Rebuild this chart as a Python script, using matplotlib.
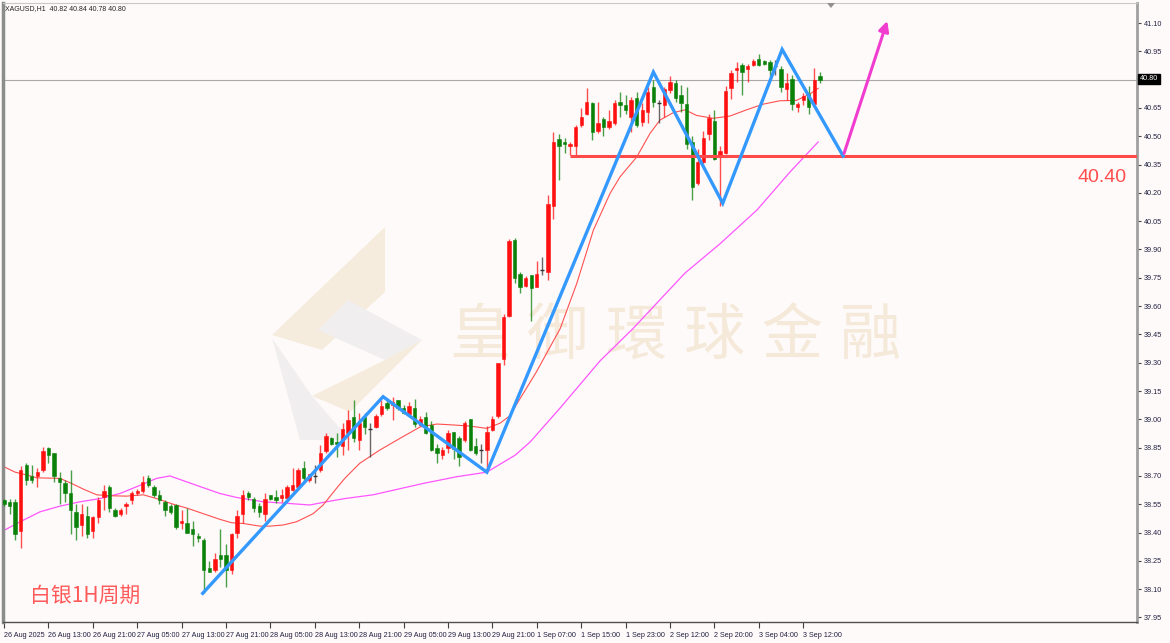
import matplotlib
matplotlib.use("Agg")
import matplotlib.pyplot as plt
from matplotlib.patches import Polygon, FancyArrowPatch
import numpy as np

# ---------------- data ----------------
opens = [38.57,38.56,38.56,38.41,38.76,38.70,38.70,38.73,38.85,38.82,
         38.69,38.66,38.61,38.51,38.44,38.49,38.41,38.48,38.59,38.64,
         38.52,38.50,38.54,38.57,38.61,38.62,38.69,38.64,38.60,38.56,
         38.54,38.545,38.448,38.45,38.42,38.38,38.36,38.21,38.20,38.28,
         38.28,38.20,38.40,38.50,38.61,38.58,38.54,38.50,38.60,38.59,
         38.585,38.585,38.625,38.64,38.74,38.68,38.70,38.73,38.83,38.90,
         38.88,38.86,38.925,39.01,38.89,39.01,38.95,38.96,39.03,39.085,
         39.075,39.10,39.06,39.03,39.06,38.97,39.01,38.97,38.85,38.81,
         38.85,38.935,38.90,38.89,39.00,38.86,38.835,38.835,38.945,39.015,
         39.32,39.55,39.95,39.77,39.706,39.765,39.70,39.79,39.78,40.13,
         40.485,40.47,40.45,40.45,40.56,40.62,40.675,40.53,40.59,40.55,
         40.57,40.68,40.665,40.60,40.70,40.575,40.63,40.76,40.675,40.665,
         40.745,40.78,40.72,40.67,40.47,40.25,40.365,40.51,40.58,40.395,
         40.41,40.755,40.85,40.875,40.855,40.875,40.91,40.90,40.895,40.87,
         40.855,40.75,40.805,40.656,40.69,40.725,40.67,40.82]
highs = [38.58,38.58,38.58,38.75,38.77,38.76,38.74,38.855,38.855,38.82,
         38.72,38.68,38.73,38.55,38.55,38.54,38.49,38.59,38.65,38.65,
         38.53,38.53,38.56,38.62,38.63,38.70,38.705,38.65,38.625,38.57,
         38.55,38.55,38.52,38.53,38.46,38.40,38.37,38.25,38.29,38.42,
         38.34,38.40,38.52,38.625,38.62,38.59,38.555,38.61,38.60,38.625,
         38.63,38.65,38.74,38.74,38.78,38.71,38.76,38.865,38.925,38.905,
         38.93,38.98,39.05,39.10,39.035,39.035,38.98,39.03,39.10,39.10,
         39.12,39.10,39.075,39.09,39.11,39.015,39.04,38.99,38.87,38.855,
         38.945,38.935,38.91,38.99,39.00,38.90,38.87,38.965,39.015,39.30,
         39.56,39.955,39.96,39.78,39.76,39.765,39.84,39.86,40.19,40.525,
         40.51,40.49,40.47,40.56,40.65,40.755,40.68,40.68,40.60,40.64,
         40.69,40.735,40.72,40.71,40.735,40.675,40.76,40.80,40.69,40.76,
         40.82,40.80,40.77,40.76,40.50,40.43,40.53,40.62,40.64,40.45,
         40.765,40.85,40.895,40.89,40.885,40.91,40.935,40.905,40.905,40.905,
         40.87,40.835,40.825,40.68,40.73,40.765,40.86,40.84]
lows = [38.54,38.50,38.36,38.32,38.65,38.66,38.64,38.72,38.77,38.67,
        38.55,38.56,38.39,38.36,38.38,38.37,38.37,38.45,38.52,38.51,
        38.48,38.49,38.50,38.55,38.60,38.61,38.64,38.59,38.55,38.49,
        38.50,38.42,38.42,38.40,38.33,38.35,38.08,38.19,38.19,38.22,
        38.11,38.18,38.37,38.45,38.57,38.51,38.48,38.46,38.57,38.555,
        38.56,38.58,38.62,38.64,38.67,38.67,38.66,38.72,38.82,38.865,
        38.80,38.81,38.84,38.88,38.84,38.92,38.80,38.955,39.015,39.05,
        38.995,39.05,39.03,39.015,38.96,38.965,38.92,38.83,38.77,38.79,
        38.82,38.79,38.75,38.88,38.83,38.81,38.77,38.72,38.94,39.005,
        39.29,39.54,39.72,39.67,39.70,39.52,39.70,39.765,39.74,40.06,
        40.27,40.41,40.40,40.40,40.55,40.61,40.48,40.515,40.50,40.54,
        40.56,40.60,40.62,40.52,40.55,40.555,40.57,40.655,40.57,40.60,
        40.73,40.68,40.63,40.43,40.16,40.24,40.355,40.48,40.375,40.13,
        40.405,40.695,40.79,40.72,40.79,40.87,40.87,40.88,40.82,40.825,
        40.735,40.69,40.64,40.63,40.665,40.62,40.665,40.78]
closes = [38.55,38.54,38.39,38.73,38.68,38.68,38.72,38.83,38.81,38.70,
          38.67,38.61,38.52,38.43,38.50,38.39,38.48,38.57,38.62,38.53,
          38.49,38.52,38.55,38.61,38.62,38.67,38.65,38.60,38.57,38.52,
          38.51,38.43,38.463,38.40,38.39,38.37,38.20,38.19,38.26,38.26,
          38.20,38.39,38.49,38.60,38.59,38.53,38.51,38.58,38.58,38.57,
          38.60,38.64,38.65,38.73,38.69,38.71,38.70,38.82,38.91,38.87,
          38.87,38.95,38.995,38.90,38.98,38.96,38.95,39.02,39.07,39.06,
          39.09,39.06,39.035,39.07,38.975,39.00,38.925,38.84,38.82,38.835,
          38.925,38.845,38.80,38.98,38.84,38.82,38.835,38.935,39.00,39.30,
          39.54,39.945,39.75,39.70,39.75,39.695,39.77,39.79,40.14,40.47,
          40.45,40.46,40.46,40.55,40.60,40.68,40.52,40.57,40.55,40.58,
          40.675,40.665,40.64,40.69,40.56,40.64,40.735,40.68,40.675,40.75,
          40.79,40.70,40.675,40.46,40.23,40.365,40.49,40.595,40.38,40.42,
          40.74,40.835,40.86,40.84,40.87,40.90,40.875,40.885,40.85,40.87,
          40.76,40.78,40.67,40.67,40.715,40.655,40.80,40.80]

# moving-average lines (bar position, price)
ma_red_x = [-0.1,2.0,4.1,5.9,10.1,12.2,14.3,16.7,19.1,22.1,25.1,27.5,30.5,32.9,35.9,
            38.9,41.0,43.1,46.1,47.9,50.3,52.7,55.7,57.5,59.9,61.4,64.1,67.7,71.4,
            75.0,78.0,81.0,84.0,87.0,89.4,91.2,92.1,95.9,100.2,103.2,106.2,109.2,
            111.0,114.0,116.4,118.2,120.6,122.7,124.8,127.8,130.8,133.8,136.8,
            139.8,142.8,145.2,146.7]
ma_red_y = [38.75,38.72,38.705,38.69,38.687,38.66,38.63,38.60,38.595,38.593,38.60,
            38.58,38.55,38.53,38.50,38.47,38.452,38.448,38.434,38.434,38.44,38.457,
            38.50,38.546,38.634,38.687,38.767,38.837,38.90,38.96,38.975,38.97,
            38.964,38.952,38.98,39.02,39.067,39.25,39.48,39.72,40.003,40.197,
            40.285,40.39,40.515,40.586,40.625,40.64,40.61,40.595,40.607,40.64,
            40.67,40.688,40.69,40.724,40.754]
ma_mag_x = [-0.1,2.9,6.5,10.1,13.7,17.3,20.9,24.5,27.5,29.9,34.7,38.9,41.9,46.7,
            50.9,55.1,58.1,61.4,66.5,75.5,81.6,87.0,92.1,94.8,100.2,107.4,113.3,
            122.7,129.0,135.7,141.6,146.7]
ma_mag_y = [38.41,38.457,38.51,38.54,38.563,38.58,38.607,38.65,38.687,38.70,38.65,
            38.607,38.586,38.563,38.555,38.546,38.563,38.58,38.60,38.66,38.696,
            38.72,38.81,38.88,39.06,39.31,39.48,39.775,39.93,40.11,40.31,40.47]

# zigzag drawn on the chart
zz_x = [35.8, 68.3, 87.0, 117.0, 129.5, 140.2, 151.2]
zz_y = [38.078, 39.12, 38.72, 40.84, 40.145, 40.96, 40.395]
arrow_x = [151.2, 159.3]
arrow_y = [40.395, 41.125]
support_level = 40.395
support_start = 102
last_price = 40.80

tick_pos = [0, 8, 16, 24, 32, 40, 48, 56, 64, 72, 80, 88, 96, 104, 112, 120, 128, 136, 144]
tick_labels = ["26 Aug 2025", "26 Aug 13:00", "26 Aug 21:00", "27 Aug 05:00", "27 Aug 13:00",
               "27 Aug 21:00", "28 Aug 05:00", "28 Aug 13:00", "28 Aug 21:00", "29 Aug 05:00",
               "29 Aug 13:00", "29 Aug 21:00", "1 Sep 07:00", "1 Sep 15:00", "1 Sep 23:00",
               "2 Sep 12:00", "2 Sep 20:00", "3 Sep 04:00", "3 Sep 12:00"]
y_ticks = [41.10, 40.95, 40.80, 40.65, 40.50, 40.35, 40.20, 40.05, 39.90, 39.75, 39.60,
           39.45, 39.30, 39.15, 39.00, 38.85, 38.70, 38.55, 38.40, 38.25, 38.10, 37.95]

# ---------------- figure ----------------
W, H = 1170, 643
BG = "#fffafa"
fig = plt.figure(figsize=(W / 100, H / 100), dpi=100, facecolor=BG)

def fx(x):
    return x / W

def fy(y):
    return 1 - y / H

ax_l, ax_r, ax_t, ax_b = 3, 1137, 3, 622
ax = fig.add_axes([fx(ax_l), fy(ax_b), fx(ax_r - ax_l), (ax_b - ax_t) / H], facecolor=BG)
ax.set_xlim(-0.18, 204.14)
ax.set_ylim(37.926, 41.206)

# watermark logo (figure pixel coords)
beige = "#f6ecdd"
grey = "#f0eeee"
polys = [
    ([(385, 227), (385, 292), (322, 350), (272, 335)], beige),
    ([(348, 300), (422, 340), (385, 360), (318, 330)], grey),
    ([(422, 340), (350, 412), (312, 396), (385, 360)], beige),
    ([(272, 338), (312, 396), (350, 440), (300, 440)], grey),
]
for pts, col in polys:
    p = Polygon([(fx(a), fy(b)) for a, b in pts], closed=True, transform=fig.transFigure,
                facecolor=col, edgecolor="none", zorder=0)
    ax.add_patch(p)
wm_chars = "皇御環球金融"
for k, ch in enumerate(wm_chars):
    ax.text(fx(480 + k * 78), fy(337), ch, transform=fig.transFigure, fontsize=44,
            color="#f5e9d9", ha="center", va="center", zorder=0.5,
            family=["Noto Sans CJK TC", "DejaVu Sans"])

# last price line
ax.axhline(last_price, color="#a8a8a8", lw=0.8, zorder=1)

# moving averages
ax.plot(ma_mag_x, ma_mag_y, color="#ff55ff", lw=0.9, zorder=2)
ax.plot(ma_red_x, ma_red_y, color="#ff5050", lw=0.8, zorder=2)

# candles
up_c, dn_c, dj_c = "#ff1010", "#0a820a", "#333333"
for i, (o, h, l, c) in enumerate(zip(opens, highs, lows, closes)):
    if c > o:
        col = up_c
    elif c < o:
        col = dn_c
    else:
        col = dj_c
    ax.vlines(i, l, h, color=col, lw=1.0, alpha=0.75, zorder=3)
    if c == o:
        ax.hlines(o, i - 0.35, i + 0.35, color=col, lw=1.0, zorder=4)
    else:
        ax.bar(i, abs(c - o), bottom=min(o, c), width=0.6, color=col,
               edgecolor=col, lw=0.4, zorder=4)

# support line
ax.plot([support_start, 204.14], [support_level, support_level], color="#ff4a4a",
        lw=2.2, zorder=5, solid_capstyle="butt")
ax.text(fx(1127), fy(177), "40.40", transform=fig.transFigure, ha="right", va="center",
        fontsize=14, color="#ff4d4d", family="Liberation Sans")

# zigzag
ax.plot(zz_x, zz_y, color="#3399ff", lw=2.4, zorder=6, solid_joinstyle="miter")
arr = FancyArrowPatch((arrow_x[0], arrow_y[0]), (arrow_x[1], arrow_y[1]),
                      arrowstyle="-|>,head_length=6,head_width=3", mutation_scale=1,
                      color="#f03ccf", lw=2.2, zorder=6)
ax.add_patch(arr)

# axes styling
ax.spines["top"].set_color("#c8c8c8")
ax.spines["top"].set_linewidth(0.8)
ax.spines["left"].set_color("#8c8c8c")
ax.spines["left"].set_linewidth(2.5)
ax.spines["right"].set_color("#a0a0a0")
ax.spines["right"].set_linewidth(2)
ax.spines["bottom"].set_color("#505050")
ax.spines["bottom"].set_linewidth(1)

ax.yaxis.tick_right()
ax.set_yticks(y_ticks)
ax.set_yticklabels(["" if abs(v - last_price) < 1e-9 else f"{v:.2f}" for v in y_ticks],
                   fontsize=5.2, color="#202040", family="Liberation Sans")
ax.tick_params(axis="y", length=3, width=0.8, pad=2, color="#404040")
ax.set_xticks(tick_pos)
ax.set_xticklabels(tick_labels, fontsize=5.2, color="#202040", ha="left",
                   family="Liberation Sans")
ax.tick_params(axis="x", length=4, width=0.8, pad=3, color="#404040")

# header text
fig.text(fx(5), fy(9), "XAGUSD,H1  40.82 40.84 40.78 40.80", fontsize=5, color="#222222",
         ha="left", va="center", family="Liberation Sans")

# current price tag
fig.text(fx(1140), fy(79), "40.80", fontsize=5.2, color="white", ha="left", va="center",
         family="Liberation Sans",
         bbox=dict(boxstyle="square,pad=0.25", facecolor="black", edgecolor="black"))

# top shift marker
tri = Polygon([(fx(827), fy(3)), (fx(835), fy(3)), (fx(831), fy(8))], closed=True,
              transform=fig.transFigure, facecolor="#909090", edgecolor="none")
fig.patches.append(tri)

# bottom-left label
fig.text(fx(30), fy(596), "白银1H周期", fontsize=15, color="#ff5a5a", ha="left", va="center",
         family=["Noto Sans CJK SC", "DejaVu Sans"])

fig.savefig("out.png", dpi=100, facecolor=BG)
